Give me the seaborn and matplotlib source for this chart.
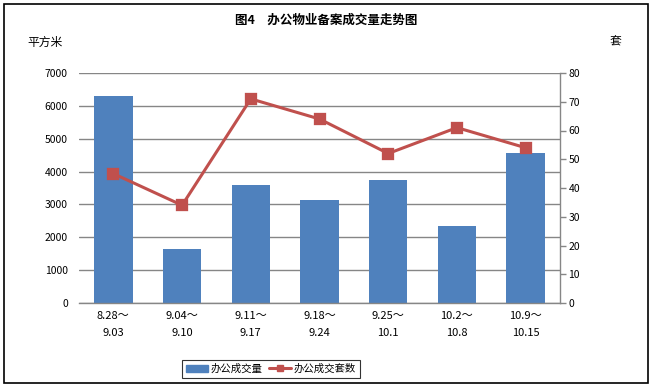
import matplotlib
matplotlib.use("Agg")
import matplotlib.pyplot as plt
import seaborn as sns
from matplotlib.patches import Rectangle, Patch
from matplotlib.lines import Line2D

categories = ["8.28～\n9.03", "9.04～\n9.10", "9.11～\n9.17", "9.18～\n9.24",
              "9.25～\n10.1", "10.2～\n10.8", "10.9～\n10.15"]
area_values = [6300, 1650, 3600, 3150, 3750, 2350, 4560]
count_values = [45, 34, 71, 64, 52, 61, 54]
left_ticks = [0, 1000, 2000, 3000, 4000, 5000, 6000, 7000]
right_ticks = [0, 10, 20, 30, 40, 50, 60, 70, 80]

sns.set_theme(style="white")
plt.rcParams['font.family'] = ['Noto Sans CJK SC', 'DejaVu Sans']
plt.rcParams['text.color'] = 'black'
plt.rcParams['xtick.labelcolor'] = 'black'
plt.rcParams['ytick.labelcolor'] = 'black'

bar_color = "#4F81BD"
line_color = "#C0504D"
grid_color = "#868686"

fig = plt.figure(figsize=(6.53, 3.87), dpi=100)
ax = fig.add_axes([79/653, 1-303/387, (560-79)/653, 230/387])

sns.barplot(x=categories, y=area_values, ax=ax, color=bar_color, width=0.56,
            saturation=1, zorder=2, linewidth=0, edgecolor=bar_color)
ax.set_ylim(0, 7000)
ax.set_yticks(left_ticks)
ax.set_yticklabels([str(t) for t in left_ticks], fontsize=7.5)
ax.yaxis.grid(True, color=grid_color, linewidth=1)
ax.set_axisbelow(True)
for s in ["left", "top", "right"]:
    ax.spines[s].set_visible(False)
ax.spines["bottom"].set_color(grid_color)
ax.spines["bottom"].set_linewidth(1)
ax.tick_params(axis="y", length=0, pad=8, labelcolor="black")
ax.tick_params(axis="x", length=0, pad=6, labelsize=8, labelcolor="black")
for lab in ax.get_xticklabels():
    lab.set_linespacing(1.8)
ax.set_xlim(-0.5, len(categories) - 0.5)

ax2 = ax.twinx()
sns.pointplot(x=categories, y=count_values, ax=ax2, color=line_color,
              markers="s", markersize=7, linewidth=2.2, zorder=3)
ax2.set_ylim(0, 80)
ax2.set_yticks(right_ticks)
ax2.set_yticklabels([str(t) for t in right_ticks], fontsize=7.5)
for s in ["left", "top", "bottom"]:
    ax2.spines[s].set_visible(False)
ax2.spines["right"].set_color(grid_color)
ax2.spines["right"].set_linewidth(1)
ax2.tick_params(axis="y", direction="out", length=4, width=1, color=grid_color, pad=2,
                right=True, labelcolor="black")
ax2.set_xlim(-0.5, len(categories) - 0.5)
ax2.set_ylabel("")

fig.text(326/653, 1-20/387, "图4　办公物业备案成交量走势图", ha="center", va="center",
         fontsize=9, fontweight="bold", color="black")
fig.text(45/653, 1-42/387, "平方米", ha="center", va="center", fontsize=8.5, color="black")
fig.text(615/653, 1-42/387, "套", ha="center", va="center", fontsize=8.5, color="black")

handles = [Patch(facecolor=bar_color, edgecolor=bar_color),
           Line2D([0], [0], color=line_color, marker="s", markersize=5, linewidth=2.2)]
leg = fig.legend(handles, ["办公成交量", "办公成交套数"], loc="center",
                 bbox_to_anchor=(271/653, 1-369/387), ncol=2, fontsize=7.5,
                 frameon=True, fancybox=False, edgecolor="black",
                 handlelength=2.1, handletextpad=0.3, columnspacing=0.6,
                 borderpad=0.35)
leg.get_frame().set_linewidth(0.8)
for t in leg.get_texts():
    t.set_color("black")

fig.patches.append(Rectangle((4/653, 4/387), 644/653, 379/387, transform=fig.transFigure,
                             fill=False, edgecolor="black", linewidth=1.2))

fig.savefig("out.png", dpi=100)
